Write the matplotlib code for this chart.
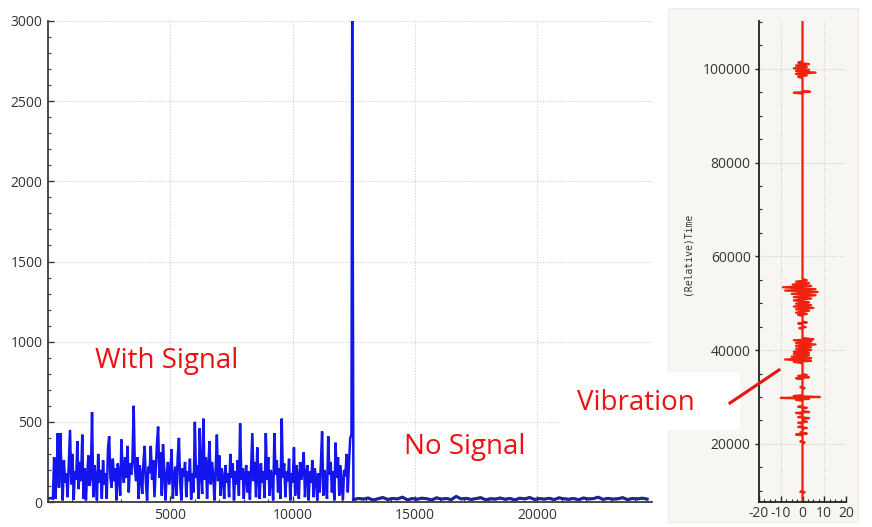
import numpy as np
import matplotlib
matplotlib.use("Agg")
import matplotlib.pyplot as plt
from matplotlib.lines import Line2D
from matplotlib.patches import Rectangle
from matplotlib.ticker import MultipleLocator

# ---------------- data: left panel (signal magnitude vs sample) ----------------
pre_x = [0, 100, 200]
pre_y = [20, 25, 20]

signal_start = 250
signal_step = 50
signal_vals = [
    280, 20, 150, 430, 90, 430, 200, 10, 260, 120, 180, 30, 240, 450, 110, 300, 15, 190, 140, 380,
    80, 250, 130, 420, 20, 210, 10, 170, 290, 100, 160, 560, 30, 230, 140, 10, 300, 120, 200, 20,
    260, 110, 180, 20, 330, 410, 150, 90, 270, 130, 210, 10, 240, 170, 40, 390, 190, 120, 280, 150,
    350, 60, 240, 170, 260, 600, 210, 130, 280, 20, 230, 160, 50, 250, 350, 120, 10, 220, 180, 350,
    140, 260, 30, 200, 360, 470, 150, 310, 40, 360, 200, 10, 170, 250, 110, 190, 330, 20, 150, 220,
    40, 280, 400, 120, 10, 210, 160, 250, 30, 190, 130, 270, 15, 180, 60, 500, 150, 230, 20, 460,
    170, 50, 520, 140, 280, 20, 220, 380, 110, 250, 170, 10, 200, 420, 130, 290, 40, 210, 150, 20,
    230, 120, 180, 30, 300, 150, 240, 10, 190, 110, 260, 40, 490, 140, 210, 20, 170, 230, 60, 190,
    15, 220, 430, 130, 250, 30, 340, 160, 20, 240, 120, 190, 25, 430, 140, 280, 40, 200, 150, 10,
    430, 170, 260, 60, 210, 20, 520, 150, 240, 30, 190, 130, 270, 10, 180, 120, 340, 40, 230, 160,
    20, 250, 140, 200, 310, 30, 170, 230, 10, 190, 120, 260, 30, 210, 150, 10, 180, 60, 240, 440,
    40, 200, 130, 20, 410, 170, 250, 60, 190, 10, 370, 150, 280, 40, 230, 120, 10, 200, 160, 300,
    60, 250, 400, 420,
]

spike_x = [12430]
spike_y = [3050]

quiet_start = 12480
quiet_step = 200
quiet_vals = [
    15, 22, 18, 25, 12, 20, 28, 16, 22, 19, 30, 14, 21, 17, 24, 20, 13, 26, 18, 22,
    15, 35, 19, 23, 16, 21, 27, 14, 20, 18, 25, 17, 22, 13, 24, 19, 28, 16, 21, 18,
    23, 15, 26, 20, 17, 22, 14, 25, 19, 21, 30, 16, 23, 18, 20, 27, 15, 22, 19, 24, 18,
]

left_xticks = [5000, 10000, 15000, 20000]
left_yticks = [0, 500, 1000, 1500, 2000, 2500, 3000]

# ---------------- data: right panel (vibration vs relative time) ----------------
vib_time = [
    7600, 9600, 9700, 9800, 9900,
    20000, 20300, 20500, 20700,
    21800, 22000, 22200, 22400, 22600,
    23200, 23400, 23600, 23800,
    24300, 24500, 24700, 24900,
    25300, 25500, 25700, 25900,
    26400, 26600, 26800, 27000,
    27500, 27700, 27900, 28100,
    29200, 29400, 29600, 29800, 30000, 30200, 30400,
    31700, 31900, 32100, 32300,
    33800, 34000, 34200, 34500, 34700, 34900,
    37200, 37500, 37700, 38000, 38300, 38600, 38900, 39200, 39400, 39700, 40000, 40300,
    40600, 40900, 41200, 41500, 41800, 42100, 42300, 42600,
    44500, 44700, 44900, 45100,
    45500, 45700, 45900, 46100,
    47300, 47500, 47700, 48000, 48400, 48700, 49000, 49300, 49600, 49900, 50200, 50600,
    51000, 51300, 51700, 52000, 52400, 52700, 53000, 53400, 53700, 54000, 54300, 54600,
    54900, 55200,
    94700, 94900, 95100, 95300,
    98000, 98300, 98600, 98900, 99200, 99500, 99800, 100100, 100400, 100700, 101000,
    101300, 101600,
    110000,
]
vib_amp = [
    0, 0, 1, -1, 0,
    0, 1, -1, 0,
    0, -3, 2, -1, 0,
    0, 2, -2, 0,
    0, -2, 2, 0,
    0, 3, -2, 0,
    0, -3, 3, 0,
    0, 2, -2, 0,
    0, -3, 3, -10, 8, -4, 0,
    0, 1, -1, 0,
    0, -3, 3, -2, 2, 0,
    0, -4, 4, -8, 4, -5, 3, -4, 3, -4, 4, -3,
    4, -3, 6, -3, 4, -4, 5, 0,
    0, -1.5, 1.5, 0,
    0, -2, 2, 0,
    0, -2, 2, -3, 3, -3, 5, -4, 4, -3, 3, -4,
    4, -4, 6, -5, 7, -8, 6, -9, 4, -4.5, 3, -3,
    2, 0,
    0, -4, 3.5, 0,
    0, -2, 2, -3, 6, -3, 3, -4, 2, -3, 3,
    -2, 0,
    0,
]

right_xticks = [-20, -10, 0, 10, 20]
right_yticks = [20000, 40000, 60000, 80000, 100000]

# ---------------- build series ----------------
sig_x = signal_start + signal_step * np.arange(len(signal_vals))
q_x = quiet_start + quiet_step * np.arange(len(quiet_vals))
all_x = np.concatenate([pre_x, sig_x, spike_x, q_x])
all_y = np.concatenate([pre_y, signal_vals, spike_y, quiet_vals])

# ---------------- figure ----------------
plt.rcParams['font.family'] = ['Open Sans', 'DejaVu Sans']
plt.rcParams['axes.unicode_minus'] = False
fig = plt.figure(figsize=(8.72, 5.27), dpi=100)
fig.patch.set_facecolor('white')

# light panel background behind right chart
fig.add_artist(Rectangle((668 / 872, 1 - 522 / 527), 190 / 872, 514 / 527,
                         transform=fig.transFigure, facecolor='#f8f6f2',
                         edgecolor='#efece6', lw=0.8, zorder=0))
# white box behind the "Vibration" label (covers part of the panel)
fig.add_artist(Rectangle((560 / 872, 1 - 430 / 527), 180 / 872, 58 / 527,
                         transform=fig.transFigure, facecolor='white',
                         edgecolor='none', zorder=0.5))

tick_col = '#333333'
spine_col = '#3a3a3a'

# left axes
axL = fig.add_axes([48 / 872, 1 - 502 / 527, 604 / 872, 481 / 527])
axL.plot(all_x, all_y, color='#1414ee', lw=1.8, solid_joinstyle='miter')
axL.plot(q_x, quiet_vals, color='#1c2790', lw=2.2)
axL.set_xlim(0, 24680)
axL.set_ylim(0, 3000)
axL.set_xticks(left_xticks)
axL.set_yticks(left_yticks)
axL.yaxis.set_minor_locator(MultipleLocator(100))
axL.xaxis.set_minor_locator(MultipleLocator(1000))
axL.grid(True, which='major', color='#cfcfcf', ls=(0, (1, 1.5)), lw=0.8)
for s in ['top', 'right']:
    axL.spines[s].set_visible(False)
for s in ['left', 'bottom']:
    axL.spines[s].set_color(spine_col)
    axL.spines[s].set_linewidth(1.3)
axL.tick_params(axis='both', which='major', direction='in', length=4, width=1,
                color=spine_col, labelsize=10, labelcolor=tick_col, pad=4)
axL.tick_params(axis='both', which='minor', direction='in', length=2, width=0.8,
                color=spine_col)
axL.set_facecolor('white')

# right axes
axR = fig.add_axes([759 / 872, 1 - 502 / 527, 87 / 872, 481 / 527])
axR.plot(vib_amp, vib_time, color='#f0220f', lw=1.6)
axR.set_xlim(-20, 20)
axR.set_ylim(7600, 110200)
axR.set_xticks(right_xticks)
axR.set_yticks(right_yticks)
axR.xaxis.set_minor_locator(MultipleLocator(2.5))
axR.yaxis.set_minor_locator(MultipleLocator(5000))
axR.grid(True, which='major', color='#cfcfcf', ls=(0, (1, 1.5)), lw=0.8)
for s in ['top', 'right']:
    axR.spines[s].set_visible(False)
for s in ['left', 'bottom']:
    axR.spines[s].set_color('#222222')
    axR.spines[s].set_linewidth(1.3)
axR.tick_params(axis='both', which='major', direction='out', length=3, width=1,
                color='#222222', labelsize=10, labelcolor=tick_col, pad=3)
axR.tick_params(axis='x', which='major', direction='in', length=4)
axR.tick_params(axis='both', which='minor', direction='in', length=2, width=0.8,
                color='#222222')
axR.set_facecolor('#f8f6f2')
axR.set_ylabel('(Relative)Time', family='DejaVu Sans Mono', fontsize=7,
               color='#333333')
axR.yaxis.set_label_coords(-0.76, 0.516)

# annotations
red = '#ee1111'
fig.text(95 / 872, 1 - 361 / 527, 'With Signal', color=red, fontsize=20,
         family='Open Sans', va='center', ha='left')
fig.text(404 / 872, 1 - 447 / 527, 'No Signal', color=red, fontsize=20,
         family='Open Sans', va='center', ha='left')
fig.text(577 / 872, 1 - 403 / 527, 'Vibration', color=red, fontsize=20,
         family='Open Sans', va='center', ha='left')
fig.add_artist(Line2D([730 / 872, 779 / 872], [1 - 403 / 527, 1 - 370 / 527],
                      transform=fig.transFigure, color=red, lw=2.2))

fig.savefig('out.png', dpi=100)
